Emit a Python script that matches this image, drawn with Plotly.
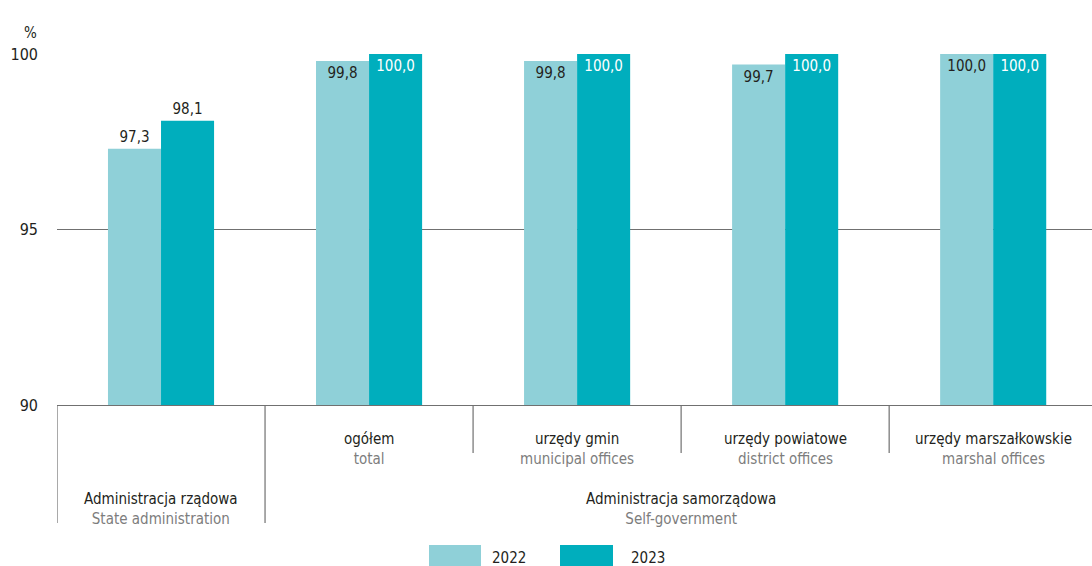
import plotly.graph_objects as go

# data
categories = ["rzadowa", "ogolem", "gmin", "powiatowe", "marszalkowskie"]
labels_pl = ["Administracja rządowa", "ogółem", "urzędy gmin", "urzędy powiatowe", "urzędy marszałkowskie"]
labels_en = ["State administration", "total", "municipal offices", "district offices", "marshal offices"]
group_pl = "Administracja samorządowa"
group_en = "Self-government"
years = ["2022", "2023"]
values_2022 = [97.3, 99.8, 99.8, 99.7, 100.0]
values_2023 = [98.1, 100.0, 100.0, 100.0, 100.0]
colors = ["#8fd0d8", "#00aebd"]
text_colors = ["#231f20", "#ffffff"]
y_ticks = [90, 95, 100]

FONT = "DejaVu Sans Condensed, Roboto, sans-serif"
W, H = 1092, 566
L, T, B = 57, 54, 161
PW, PH = W - L, H - T - B
DARK = "#231f20"
GREY = "#7d7d7d"
LINE = "#707070"


def px(x):
    return (x - L) / PW


def py(y):
    return (H - B - y) / PH


fig = go.Figure()
positions = ["outside" if v < 99 else "inside" for v in values_2022]
for i, (name, vals) in enumerate(zip(years, [values_2022, values_2023])):
    fig.add_trace(go.Bar(
        x=categories, y=vals, name=name,
        marker=dict(color=colors[i], line=dict(width=0)),
        texttemplate="%{y:.1f}",
        textposition=positions,
        insidetextanchor="end",
        textfont=dict(family=FONT, size=15, color=DARK),
        insidetextfont=dict(family=FONT, size=15, color=text_colors[i]),
        outsidetextfont=dict(family=FONT, size=15, color=DARK),
        cliponaxis=False,
        showlegend=False,
        hoverinfo="skip",
    ))

shapes = []
annotations = []

# separators under the axis
for k in range(len(categories)):
    depth = 118 if k < 2 else 48
    shapes.append(dict(type="line", xref="x", yref="paper",
                       x0=k - 0.5, x1=k - 0.5, y0=0, y1=py(405 + depth),
                       line=dict(color=LINE, width=1.2)))

# category labels
for k in range(len(categories)):
    shift = -83 if k == 0 else -23
    annotations.append(dict(
        xref="x", yref="paper", x=k, y=0, yshift=shift, yanchor="top",
        showarrow=False,
        text=f"{labels_pl[k]}<br><span style='color:{GREY}'>{labels_en[k]}</span>",
        font=dict(family=FONT, size=15, color=DARK)))
annotations.append(dict(
    xref="x", yref="paper", x=2.5, y=0, yshift=-83, yanchor="top",
    showarrow=False,
    text=f"{group_pl}<br><span style='color:{GREY}'>{group_en}</span>",
    font=dict(family=FONT, size=15, color=DARK)))

# unit
annotations.append(dict(xref="paper", yref="paper", x=px(22), y=py(22),
                        showarrow=False, text="%",
                        font=dict(family=FONT, size=15, color=DARK)))

# legend
legend_boxes = [(429, 481), (560, 613)]
legend_text_x = [509, 648]
for i, name in enumerate(years):
    x0, x1 = legend_boxes[i]
    shapes.append(dict(type="rect", xref="paper", yref="paper",
                       x0=px(x0), x1=px(x1), y0=py(545), y1=py(570),
                       fillcolor=colors[i], line=dict(width=0)))
    annotations.append(dict(xref="paper", yref="paper", x=px(legend_text_x[i]), y=py(568),
                            yanchor="bottom", borderpad=0,
                            showarrow=False, text=name,
                            font=dict(family=FONT, size=15, color=DARK)))

fig.update_layout(
    width=W, height=H,
    margin=dict(l=L, r=0, t=T, b=B),
    paper_bgcolor="white", plot_bgcolor="white",
    barmode="group", bargap=0.49, bargroupgap=0,
    separators=", ",
    font=dict(family=FONT, size=15, color=DARK),
    xaxis=dict(range=[-0.5, 4.475], showticklabels=False, ticks="",
               showgrid=False, showline=True, linecolor=LINE, linewidth=1.2,
               zeroline=False, fixedrange=True),
    yaxis=dict(range=[90, 100], tickvals=y_ticks, ticks="",
               showgrid=True, gridcolor=LINE, gridwidth=1.2,
               showline=False, zeroline=False, ticklabelstandoff=18,
               fixedrange=True,
               tickfont=dict(family=FONT, size=16, color=DARK)),
    shapes=shapes,
    annotations=annotations,
)

fig.write_html("out.html", config={"displayModeBar": False},
               post_script="document.body.style.margin='0';")
